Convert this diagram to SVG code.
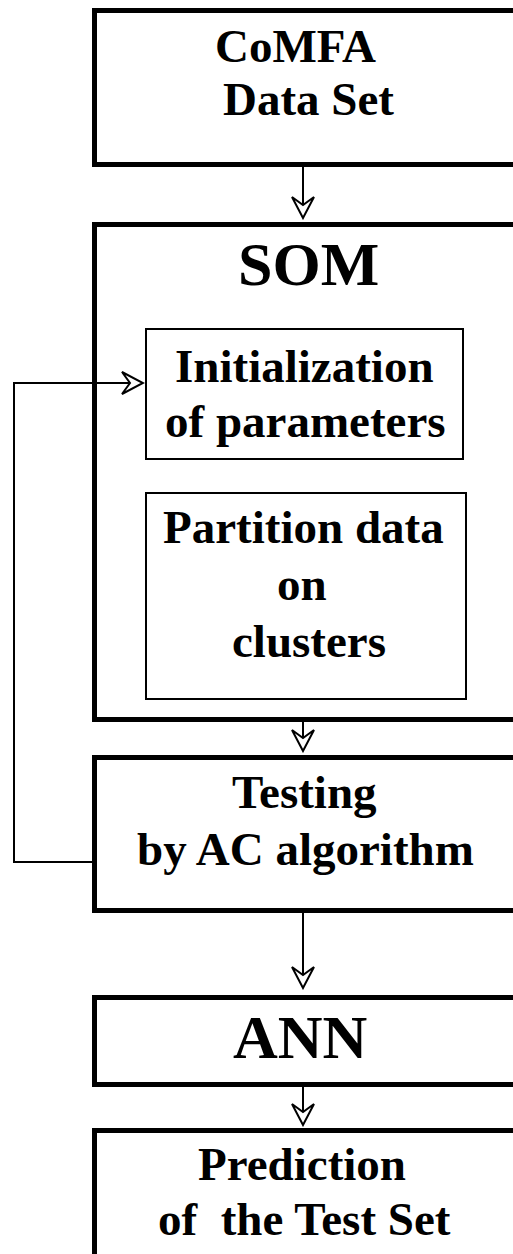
<svg xmlns="http://www.w3.org/2000/svg" width="513" height="1254" viewBox="0 0 513 1254">
<style>
.box{fill:none;stroke:#000;stroke-width:5}
.inner{fill:none;stroke:#000;stroke-width:2}
.t{font-family:"Liberation Serif","Times New Roman",serif;font-weight:bold;font-size:47px;fill:#000}
.big{font-size:62px}
.c{fill:none;stroke:#000;stroke-width:2}
</style>
<defs>
<marker id="arr" markerUnits="userSpaceOnUse" viewBox="-24 -13 26 26" markerWidth="26" markerHeight="26" refX="0" refY="0" orient="auto">
<path d="M-21,-11 L0,0 L-21,11 L-13,0 Z" fill="#fff" stroke="#000" stroke-width="2" stroke-linejoin="miter"/>
</marker>
</defs>
<rect width="513" height="1254" fill="#fff"/>
<g id="comfa">
<rect class="box" x="94.5" y="10.5" width="440" height="154"/>
<text class="t" x="215" y="62">CoMFA</text>
<text class="t" x="223" y="115">Data Set</text>
</g>
<g id="som">
<rect class="box" x="94.5" y="224.5" width="440" height="495"/>
<text class="t big" x="238" y="285">SOM</text>
</g>
<g id="init">
<rect class="inner" x="146" y="329" width="317" height="130"/>
<text class="t" x="175" y="382">Initialization</text>
<text class="t" x="165" y="437">of parameters</text>
</g>
<g id="partition">
<rect class="inner" x="146" y="493" width="320" height="206"/>
<text class="t" x="163" y="543">Partition data</text>
<text class="t" x="277" y="600">on</text>
<text class="t" x="232" y="657">clusters</text>
</g>
<g id="testing">
<rect class="box" x="94.5" y="757.5" width="440" height="153"/>
<text class="t" x="232" y="808">Testing</text>
<text class="t" x="137" y="865">by AC algorithm</text>
</g>
<g id="ann">
<rect class="box" x="94.5" y="997.5" width="440" height="87"/>
<text class="t big" x="233" y="1058">ANN</text>
</g>
<g id="prediction">
<rect class="box" x="94.5" y="1130.5" width="440" height="160"/>
<text class="t" x="198" y="1180">Prediction</text>
<text class="t" x="158" y="1235" xml:space="preserve">of  the Test Set</text>
</g>
<g id="connectors">
<line class="c" x1="303" y1="167" x2="303" y2="218" marker-end="url(#arr)"/>
<line class="c" x1="303" y1="722" x2="303" y2="751" marker-end="url(#arr)"/>
<line class="c" x1="303" y1="913" x2="303" y2="988" marker-end="url(#arr)"/>
<line class="c" x1="303" y1="1087" x2="303" y2="1125" marker-end="url(#arr)"/>
<polyline class="c" points="93,862 14,862 14,383 143,383" marker-end="url(#arr)"/>
</g>
</svg>
